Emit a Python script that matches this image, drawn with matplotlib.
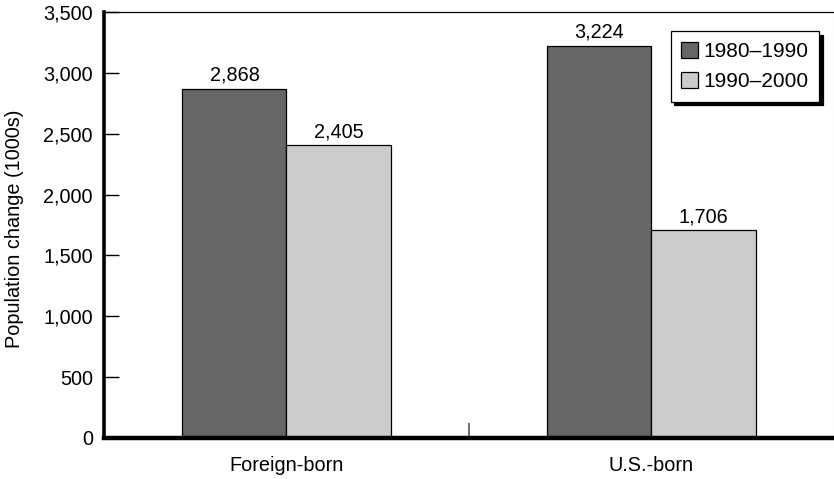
import matplotlib.pyplot as plt
import numpy as np

plt.rcParams['font.family'] = ['Liberation Sans', 'DejaVu Sans']

categories = ['Foreign-born', 'U.S.-born']
series_names = ['1980\u20131990', '1990\u20132000']
values_1980_1990 = [2868, 3224]
values_1990_2000 = [2405, 1706]
yticks = [0, 500, 1000, 1500, 2000, 2500, 3000, 3500]

colors = ['#666666', '#cccccc']
fs = 14.3

fig = plt.figure(figsize=(8.34, 4.79), dpi=100)
ax = fig.add_axes([0.1247, 0.0856, 0.8753, 0.8894])

x = np.arange(len(categories))
width = 0.285
bars1 = ax.bar(x - width / 2, values_1980_1990, width, color=colors[0],
               edgecolor='black', linewidth=0.9, label=series_names[0], zorder=2)
bars2 = ax.bar(x + width / 2, values_1990_2000, width, color=colors[1],
               edgecolor='black', linewidth=0.9, label=series_names[1], zorder=2)

for bars, vals in ((bars1, values_1980_1990), (bars2, values_1990_2000)):
    for b, v in zip(bars, vals):
        ax.annotate(f'{v:,}', (b.get_x() + b.get_width() / 2, v),
                    xytext=(0, 3), textcoords='offset points',
                    ha='center', va='bottom', fontsize=fs)

ax.set_xlim(-0.5, 1.5)
ax.set_ylim(0, 3500)
ax.set_yticks(yticks)
ax.set_yticklabels([f'{t:,}' for t in yticks], fontsize=fs)
ax.set_xticks(x)
ax.set_xticklabels(categories, fontsize=fs)
ax.set_xticks([0.5], minor=True)
ax.tick_params(axis='x', which='major', length=0, pad=13)
ax.tick_params(axis='x', which='minor', direction='in', length=11,
               width=1.2, color='#555555')
ax.tick_params(axis='y', direction='in', length=11, width=1, pad=8)
ax.set_ylabel('Population change (1000s)', fontsize=fs)
ax.yaxis.set_label_coords(-0.110, 0.49)

ax.spines['left'].set_linewidth(2.6)
ax.spines['bottom'].set_linewidth(3.2)
ax.spines['top'].set_linewidth(0.9)
ax.spines['right'].set_color('#dddddd')
ax.spines['right'].set_linewidth(0.8)

leg = ax.legend(loc='upper right', bbox_to_anchor=(0.98, 0.955),
                fontsize=15, frameon=True, fancybox=False,
                shadow={'color': 'black', 'alpha': 1.0, 'ox': 2.5, 'oy': -2.5},
                handlelength=0.8, handleheight=0.8, handletextpad=0.3,
                borderpad=0.5, labelspacing=0.55, borderaxespad=0)
leg.get_frame().set_edgecolor('black')
leg.get_frame().set_linewidth(0.9)
leg.get_frame().set_alpha(1)

fig.savefig('out.png', dpi=100)
